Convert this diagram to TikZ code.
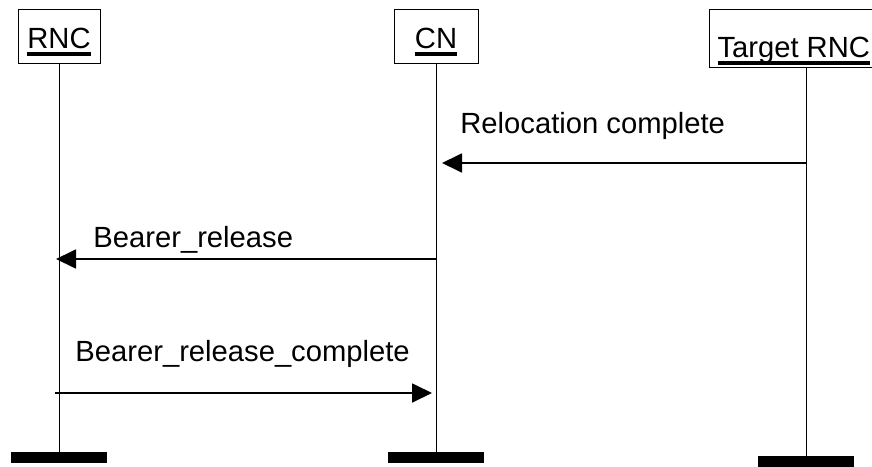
\documentclass[tikz,border=0pt]{standalone}
\usepackage{fontspec}
\setmainfont{Liberation Sans}
\usetikzlibrary{arrows.meta}
% thick underline under the entity names
\newcommand{\ulname}[1]{\setbox0\hbox{#1}%
  \rlap{\vrule width\wd0 height -2.0pt depth 3.8pt}\box0}
\tikzset{%
  >={Triangle[width=9.5pt,length=10pt]},
  % Specifications for style of nodes:
        entity/.style = {rectangle, draw=black, line width=0.5pt,
                         inner sep=0pt, text height=12pt, text depth=0pt,
                         minimum height=27pt,
                         font=\fontsize{14.6}{17}\selectfont},
        endbar/.style = {rectangle, fill=black, minimum width=48pt,
                         minimum height=5.5pt, inner sep=0pt},
      msglabel/.style = {anchor=base west, inner sep=0pt,
                         font=\fontsize{14.6}{17}\selectfont},
      lifeline/.style = {line width=0.5pt},
           msg/.style = {->, line width=0.9pt},
}
\begin{document}
\begin{tikzpicture}[x=0.5pt, y=-0.5pt]
\useasboundingbox (0,0) rectangle (872,466);

\node (RNC)  [entity, minimum width=41pt] at (59,36)  {\ulname{RNC}};
\node (CN)   [entity, minimum width=42pt] at (436,36) {\ulname{CN}};
\node (TRNC) [entity, anchor=west, inner xsep=4pt, minimum height=29pt,
              text height=19pt] at (709,38) {\ulname{Target RNC}};

\node (RNCbar)  [endbar] at (59,457.5)  {};
\node (CNbar)   [endbar] at (436,457.5) {};
\node (TRNCbar) [endbar] at (806,461.5) {};

\draw[lifeline] (RNC.south) -- (RNCbar.north);
\draw[lifeline] (CN.south) -- (CNbar.north);
\draw[lifeline] (TRNCbar.north |- TRNC.south) -- (TRNCbar.north);

\coordinate (RelFrom) at (806,163);
\coordinate (RelTo)   at (442,163);
\coordinate (BrFrom)  at (436,259);
\coordinate (BrTo)    at (56,259);
\coordinate (BrcFrom) at (55,393);
\coordinate (BrcTo)   at (432,393);

\node (RelLbl) [msglabel] at (460,133) {Relocation complete};
\node (BrLbl)  [msglabel] at (93,247)  {Bearer\_release};
\node (BrcLbl) [msglabel] at (75,361)  {Bearer\_release\_complete};

\draw[msg] (RelFrom) -- (RelTo);
\draw[msg] (BrFrom) -- (BrTo);
\draw[msg] (BrcFrom) -- (BrcTo);
\end{tikzpicture}
\end{document}
